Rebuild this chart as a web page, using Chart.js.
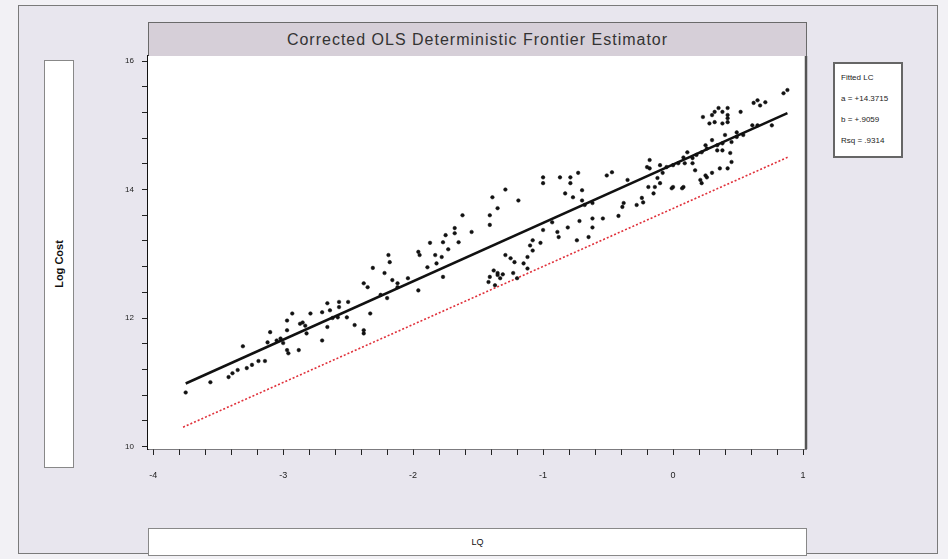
<!DOCTYPE html>
<html>
<head>
<meta charset="utf-8">
<script src="https://cdn.jsdelivr.net/npm/chart.js@4.4.1/dist/chart.umd.min.js"></script>
<style>
  body { margin: 0; background: #f2f1f5; font-family: "Liberation Sans", Arial, sans-serif; }
  #wrap { position: relative; width: 948px; height: 559px; overflow: hidden; }
  .box { position: absolute; box-sizing: border-box; }
  #frame { left: 18px; top: 5px; width: 920px; height: 549px; border: 1px solid #7a7a7a; background: #e8e6ee; }
  #titleBar { left: 148px; top: 22px; width: 659px; height: 35px; background: #d6cfd8; border: 1px solid #6a6a6a;
    font-size: 16px; letter-spacing: 1px; color: #333; text-align: center; line-height: 33px; }
  #yBox { left: 44px; top: 60px; width: 30px; height: 408px; background: #fff; border: 1px solid #888; }
  #yBox span { position: absolute; left: 50%; top: 50%; transform: translate(-50%, -50%) rotate(-90deg);
    font-size: 11px; font-weight: bold; white-space: nowrap; color: #111; }
  #xBox { left: 148px; top: 528px; width: 659px; height: 28px; background: #fff; border: 1px solid #888;
    font-size: 9px; text-align: center; line-height: 26px; color: #111; }
  #legend { left: 833px; top: 62px; width: 70px; height: 96px; background: #fff; border: 2px solid #666;
    font-size: 8px; color: #222; padding: 3px 0 0 6px; line-height: 21px; }
  canvas { position: absolute; left: 0; top: 0; }
</style>
</head>
<body>
<div id="wrap">
  <div class="box" id="frame"></div>
  <div class="box" id="titleBar">Corrected OLS Deterministic Frontier Estimator</div>
  <div class="box" id="yBox"><span>Log Cost</span></div>
  <div class="box" id="xBox">LQ</div>
  <div class="box" id="legend">Fitted LC<br>a = +14.3715<br>b = +.9059<br>Rsq = .9314</div>
  <canvas id="myChart" width="948" height="559"></canvas>
</div>
<script>
// observed points, LQ (log output) and LC (log cost)
const lq = [
  -3.75, -3.56, -3.42, -3.39, -3.35, -3.28, -3.24, -3.19, -3.14, -3.31, -3.12, -3.10, -3.05, -3.00, -2.97, -2.96,
  -2.88, -3.02, -2.97, -2.93, -2.97, -2.87, -2.85, -2.83, -2.79, -2.82, -2.70, -2.70, -2.66, -2.64, -2.62, -2.66,
  -2.58, -2.45, -2.38, -2.38, -2.51, -2.57,
  -2.57, -2.50, -2.33, -2.38, -2.35, -2.31, -2.25, -2.22, -2.19, -2.18, -2.16, -2.12, -2.20, -2.12, -2.04, -1.96,
  -1.95, -1.96, -1.89, -1.87, -1.83, -1.82, -1.77, -1.75, -1.78, -1.73, -1.68, -1.68, -1.65, -1.62, -1.55, -1.77,
  -1.41, -1.39, -1.41, -1.35, -1.42, -1.41, -1.38, -1.37, -1.35, -1.29, -1.19,
  -1.00, -1.00, -0.87, -0.79, -0.73, -0.79, -0.83, -0.77, -0.70, -0.51, -0.47, -0.35, -1.00, -0.93, -0.89, -0.88,
  -0.81, -0.72, -0.62, -0.62, -0.74, -0.65, -0.54, -0.42, -0.39, -0.38, -0.28, -0.24, -0.23, -0.19, -0.18, -0.20,
  -1.08, -1.10, -1.02, -1.12, -1.29, -1.25, -1.22, -1.15, -1.35, -1.33, -1.31, -1.23, -1.08, -0.70, -0.68, -0.62,
  -1.12, -1.20,
  0.85, 0.88, 0.71, 0.65, 0.62, 0.67, 0.52, 0.42, 0.35, 0.32, 0.38, 0.42, 0.30, 0.23, 0.42, 0.28,
  0.32, 0.38, 0.42, 0.76, 0.65, 0.61, 0.49, 0.40, 0.30, 0.25, 0.34, 0.38, 0.45, 0.49, 0.54, 0.34,
  0.38, 0.26, 0.22, 0.18, 0.15, 0.11, 0.08, 0.09, 0.04, 0.00, -0.05, -0.10, -0.18, 0.44, 0.45, 0.42,
  0.36, 0.15, 0.17, 0.25, 0.26, 0.30, 0.21, 0.22, 0.08, 0.07, 0.00, -0.01, -0.08, -0.12, -0.14, -0.15,
  -0.10
];
const lc = [
  10.84, 11.00, 11.08, 11.14, 11.19, 11.22, 11.27, 11.33, 11.33, 11.56, 11.62, 11.78, 11.65, 11.61, 11.50, 11.45,
  11.50, 11.68, 11.81, 12.07, 11.96, 11.91, 11.93, 11.88, 12.07, 11.76, 11.65, 12.09, 12.23, 12.12, 12.00, 11.86,
  12.01, 11.89, 11.81, 11.76, 12.01, 12.17,
  12.25, 12.25, 12.07, 12.54, 12.48, 12.78, 12.36, 12.70, 12.98, 12.87, 12.59, 12.54, 12.31, 12.48, 12.62, 13.03,
  12.98, 12.43, 12.79, 13.17, 12.98, 12.85, 13.18, 13.29, 12.95, 13.07, 13.40, 13.32, 13.18, 13.60, 13.34, 12.64,
  13.60, 13.88, 13.45, 13.71, 12.56, 12.64, 12.74, 12.51, 12.70, 14.00, 13.83,
  14.19, 14.10, 14.19, 14.19, 14.26, 14.10, 13.94, 13.88, 13.99, 14.22, 14.27, 14.15, 13.37, 13.49, 13.34, 13.26,
  13.41, 13.51, 13.55, 13.41, 13.21, 13.26, 13.55, 13.59, 13.73, 13.79, 13.76, 13.87, 13.80, 14.04, 14.46, 14.35,
  13.21, 13.13, 13.17, 12.95, 12.98, 12.93, 12.87, 12.85, 12.67, 12.62, 12.68, 12.70, 13.05, 13.83, 13.76, 13.79,
  12.77, 12.62,
  15.50, 15.55, 15.36, 15.39, 15.35, 15.31, 15.21, 15.27, 15.27, 15.21, 15.21, 15.16, 15.16, 15.13, 15.11, 15.03,
  15.05, 15.03, 15.05, 15.00, 15.00, 15.00, 14.89, 14.85, 14.77, 14.69, 14.69, 14.72, 14.74, 14.82, 14.85, 14.61,
  14.61, 14.64, 14.58, 14.54, 14.49, 14.58, 14.50, 14.41, 14.41, 14.38, 14.35, 14.38, 14.33, 14.57, 14.43, 14.33,
  14.33, 14.41, 14.30, 14.22, 14.19, 14.26, 14.15, 14.10, 14.04, 14.02, 14.04, 14.02, 14.26, 14.18, 14.04, 13.94,
  14.10
];

// fitted OLS line and shifted (corrected) frontier, end points
const lineX = [-3.75, 0.88];
const fitY = [10.98, 15.19];
const frontierX = [-3.77, 0.89];
const frontierY = [10.30, 14.51];

const xMajor = 1, xMinor = 0.2;
const yMajor = 2, yMinor = 0.4;

const onStep = (v, s) => Math.abs(v / s - Math.round(v / s)) < 1e-6;

// ticks at every multiple of the minor step inside the axis range
const stepTicks = (s, step) => {
  const out = [];
  for (let k = Math.ceil(s.min / step - 1e-9); k * step <= s.max + 1e-9; k++) {
    out.push({ value: Math.round(k * step * 1000) / 1000 });
  }
  s.ticks = out;
};

const plotFrame = {
  id: 'plotFrame',
  beforeDatasetsDraw(chart) {
    const a = chart.chartArea, ctx = chart.ctx;
    ctx.save();
    ctx.fillStyle = '#ffffff';
    ctx.fillRect(a.left, a.top, a.right - a.left, a.bottom - a.top);
    ctx.restore();
  },
  afterDraw(chart) {
    const a = chart.chartArea, ctx = chart.ctx;
    ctx.save();
    ctx.strokeStyle = '#555';
    ctx.lineWidth = 2.5;
    ctx.beginPath();
    ctx.moveTo(a.right, a.top);
    ctx.lineTo(a.right, a.bottom);
    ctx.stroke();
    ctx.restore();
  }
};

new Chart(document.getElementById('myChart'), {
  type: 'scatter',
  data: {
    datasets: [
      {
        label: 'LC',
        data: lq.map((x, i) => ({ x: x, y: lc[i] })),
        pointStyle: 'circle',
        pointRadius: 1.8,
        backgroundColor: '#111',
        borderColor: '#111',
        borderWidth: 0.5
      },
      {
        label: 'Fitted',
        data: lineX.map((x, i) => ({ x: x, y: fitY[i] })),
        showLine: true,
        pointRadius: 0,
        borderColor: '#111',
        borderWidth: 2.5
      },
      {
        label: 'Frontier',
        data: frontierX.map((x, i) => ({ x: x, y: frontierY[i] })),
        showLine: true,
        pointRadius: 0,
        borderColor: '#e0303a',
        borderWidth: 1.6,
        borderDash: [2, 2]
      }
    ]
  },
  options: {
    responsive: false,
    animation: false,
    devicePixelRatio: 1,
    layout: { padding: { left: 108, right: 142, top: 56, bottom: 80 } },
    plugins: { legend: { display: false }, tooltip: { enabled: false }, title: { display: false } },
    scales: {
      x: {
        type: 'linear',
        min: -4.04,
        max: 1.023,
        afterFit: s => { s.height = 30; },
        afterBuildTicks: s => stepTicks(s, xMinor),
        border: { color: '#111', width: 1.5 },
        grid: { drawOnChartArea: false, tickLength: 6, tickColor: '#222', tickWidth: 1 },
        ticks: {
          autoSkip: false,
          maxRotation: 0,
          padding: 15,
          color: '#222',
          font: { size: 9, family: 'Liberation Sans' },
          callback: v => onStep(v, xMajor) ? String(Math.round(v)) : ''
        }
      },
      y: {
        type: 'linear',
        min: 9.96,
        max: 16.08,
        afterFit: s => { s.width = 40; },
        afterBuildTicks: s => stepTicks(s, yMinor),
        border: { color: '#111', width: 1.5 },
        grid: { drawOnChartArea: false, tickLength: 6, tickColor: '#222', tickWidth: 1 },
        ticks: {
          autoSkip: false,
          padding: 8,
          color: '#222',
          font: { size: 8, family: 'Liberation Sans' },
          callback: v => onStep(v, yMajor) ? String(Math.round(v)) : ''
        }
      }
    }
  },
  plugins: [plotFrame]
});
</script>
</body>
</html>
